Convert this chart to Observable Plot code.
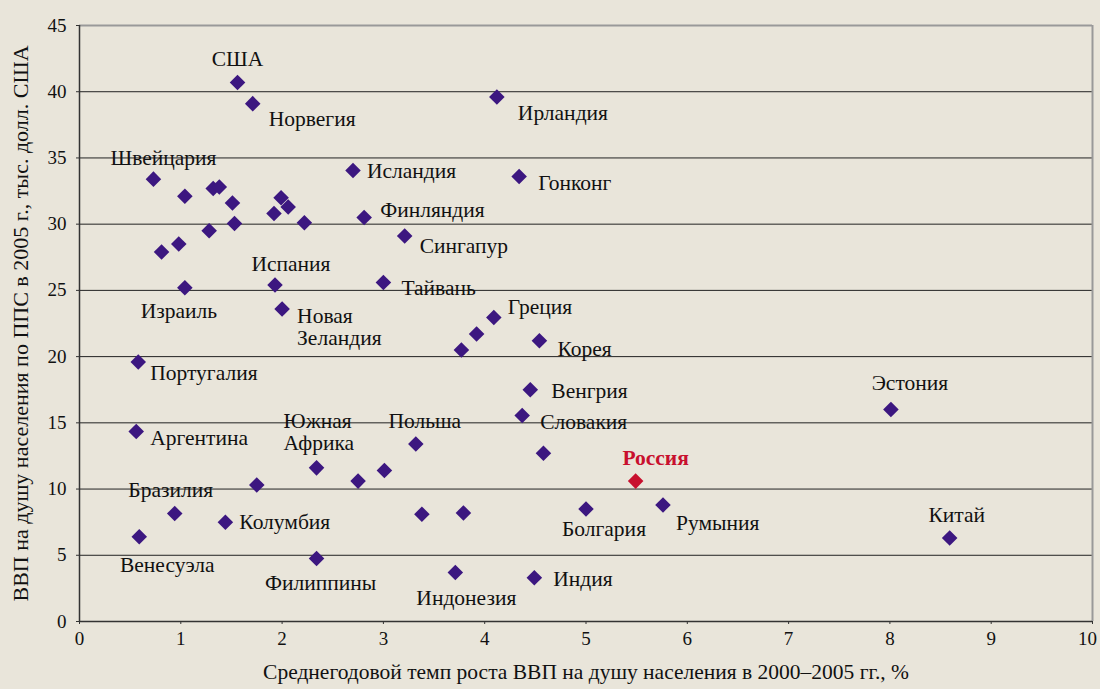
<!DOCTYPE html>
<html>
<head>
<meta charset="utf-8">
<script src="https://cdn.jsdelivr.net/npm/d3@7"></script>
<script src="https://cdn.jsdelivr.net/npm/@observablehq/plot@0.6"></script>
<style>
  html, body { margin: 0; padding: 0; background: #e9e5da; }
  #chart { width: 1100px; height: 689px; }
</style>
</head>
<body>
<div id="chart"></div>
<script>
// ---- data ----
const countries = [
  "США", "Норвегия", "Ирландия", "Швейцария", "", "", "", "", "", "", "", "", "", "", "", "",
  "Исландия", "Финляндия", "Сингапур", "Гонконг", "Испания", "Израиль", "Тайвань", "Новая\nЗеландия",
  "Греция", "", "", "Корея", "Португалия", "Венгрия", "Словакия", "Эстония", "Аргентина", "Польша", "",
  "Южная\nАфрика", "", "", "", "Россия", "Бразилия", "Колумбия", "Венесуэла", "", "", "Болгария",
  "Румыния", "Филиппины", "Индонезия", "Индия", "Китай"
];
const growth = [
  1.56, 1.71, 4.12, 0.73, 1.04, 1.32, 1.38, 1.51, 1.53, 1.28, 0.98, 0.81, 1.92, 1.99, 2.06, 2.22,
  2.70, 2.81, 3.21, 4.34, 1.93, 1.04, 3.00, 2.00,
  4.09, 3.92, 3.77, 4.54, 0.58, 4.45, 4.37, 8.01, 0.56, 3.32, 4.58,
  2.34, 3.01, 2.75, 1.75, 5.49, 0.94, 1.44, 0.59, 3.38, 3.79, 5.00,
  5.76, 2.34, 3.71, 4.49, 8.59
];
const gdp = [
  40.7, 39.1, 39.6, 33.4, 32.1, 32.7, 32.8, 31.6, 30.05, 29.5, 28.5, 27.9, 30.8, 32.0, 31.3, 30.1,
  34.05, 30.5, 29.1, 33.6, 25.4, 25.2, 25.6, 23.6,
  22.95, 21.7, 20.5, 21.2, 19.6, 17.5, 15.55, 16.0, 14.35, 13.4, 12.7,
  11.6, 11.4, 10.6, 10.3, 10.6, 8.15, 7.5, 6.4, 8.1, 8.2, 8.5,
  8.8, 4.75, 3.7, 3.3, 6.3
];
const highlight = "Россия";
const yTicks = [0, 5, 10, 15, 20, 25, 30, 35, 40, 45];
const xTicks = [0, 1, 2, 3, 4, 5, 6, 7, 8, 9, 10];
const xTitle = "Среднегодовой темп роста ВВП на душу населения в 2000–2005 гг., %";
const yTitle = "ВВП на душу населения по ППС в 2005 г., тыс. долл. США";

// ---- label layout (offset from point in px, anchor) ----
const labelLayout = {
  "США": [0, -24, "middle"],
  "Норвегия": [16, 15, "start"],
  "Ирландия": [21, 16, "start"],
  "Швейцария": [10, -21, "middle"],
  "Исландия": [14, 0, "start"],
  "Финляндия": [16, -8, "start"],
  "Сингапур": [15, 10, "start"],
  "Гонконг": [19, 6, "start"],
  "Испания": [16, -21, "middle"],
  "Израиль": [-6, 23, "middle"],
  "Тайвань": [18, 5, "start"],
  "Новая\nЗеландия": [15, 18, "start"],
  "Греция": [14, -11, "start"],
  "Корея": [18, 8, "start"],
  "Португалия": [12, 11, "start"],
  "Венгрия": [21, 1, "start"],
  "Словакия": [18, 6, "start"],
  "Эстония": [19, -27, "middle"],
  "Аргентина": [14, 6, "start"],
  "Польша": [9, -23, "middle"],
  "Южная\nАфрика": [-33, -36, "start"],
  "Россия": [20, -23, "middle"],
  "Бразилия": [-4, -24, "middle"],
  "Колумбия": [14, 0, "start"],
  "Венесуэла": [28, 28, "middle"],
  "Болгария": [18, 20, "middle"],
  "Румыния": [13, 18, "start"],
  "Филиппины": [4, 24, "middle"],
  "Индонезия": [11, 25, "middle"],
  "Индия": [19, 1, "start"],
  "Китай": [7, -23, "middle"]
};

const points = countries.map((name, i) => ({name, x: growth[i], y: gdp[i]}));
const labelled = points.filter(d => d.name !== "");

const font = '"Liberation Serif", "DejaVu Serif", serif';
const textMarks = labelled.map(d => {
  const [dx, dy, anchor] = labelLayout[d.name];
  const isHi = d.name === highlight;
  return Plot.text([d], {
    x: "x", y: "y", text: "name", dx, dy, textAnchor: anchor,
    lineHeight: 1.05,
    fill: isHi ? "#c8102e" : "#111",
    fontWeight: isHi ? "bold" : "normal",
    fontSize: 21.5, fontFamily: font
  });
});

const lastX = xTicks[xTicks.length - 1];

const chart = Plot.plot({
  width: 1100,
  height: 689,
  marginLeft: 79,
  marginRight: 8,
  marginTop: 25,
  marginBottom: 68,
  style: {background: "#e9e5da", fontFamily: font, fontSize: "19px", color: "#111"},
  x: {domain: [0, 10]},
  y: {domain: [0, 45]},
  marks: [
    Plot.ruleY(yTicks.filter(t => t > 0 && t < 45), {stroke: "#222", strokeWidth: 1}),
    Plot.ruleY([45], {stroke: "#999", strokeWidth: 2}),
    Plot.ruleX([10], {stroke: "#999", strokeWidth: 2}),
    Plot.ruleX([0], {stroke: "#333", strokeWidth: 1.5}),
    Plot.ruleY([0], {stroke: "#333", strokeWidth: 1.5}),
    Plot.axisY({ticks: yTicks, tickSize: 3, tickPadding: 10, label: null, fontSize: 19, fontFamily: font, stroke: "#333"}),
    Plot.axisX({ticks: xTicks, tickSize: 3, tickFormat: () => "", label: null, stroke: "#333"}),
    Plot.text(xTicks.filter(t => t !== lastX), {x: d => d, frameAnchor: "bottom", dy: 23, text: d => String(d),
      fontSize: 19, fontFamily: font, fill: "#111"}),
    Plot.text([lastX], {x: d => d, frameAnchor: "bottom", dy: 23, dx: -5, text: d => String(d),
      fontSize: 19, fontFamily: font, fill: "#111"}),
    Plot.dot(points, {
      x: "x", y: "y", symbol: "diamond2", r: 7,
      fill: d => d.name === highlight ? "#c8102e" : "#3c1780",
      stroke: "none"
    }),
    ...textMarks,
    Plot.text([xTitle], {frameAnchor: "bottom", dy: 57, textAnchor: "middle", fontSize: 21.5, fontFamily: font, fill: "#111"}),
    Plot.text([yTitle], {frameAnchor: "left", dx: -59, textAnchor: "middle", rotate: -90, fontSize: 22, fontFamily: font, fill: "#111"})
  ]
});
document.getElementById("chart").appendChild(chart);
</script>
</body>
</html>
